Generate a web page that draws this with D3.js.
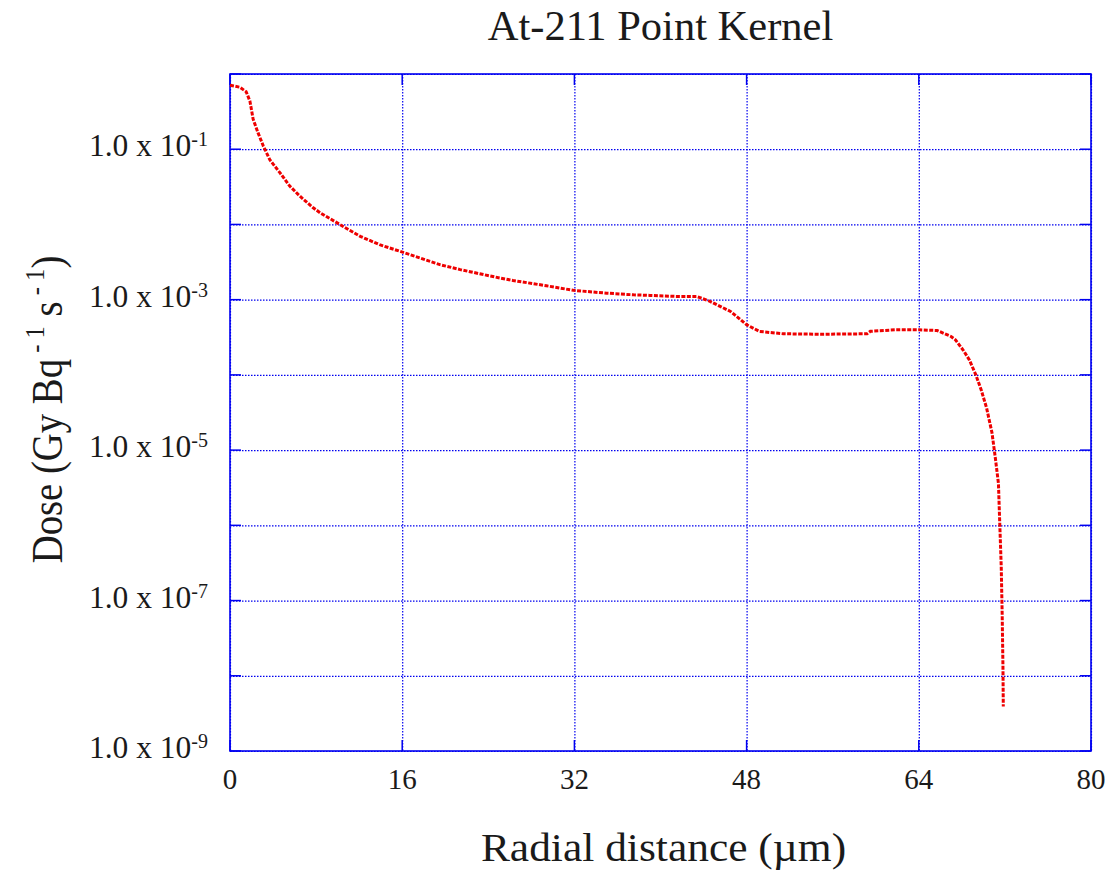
<!DOCTYPE html>
<html>
<head>
<meta charset="utf-8">
<script src="https://cdn.jsdelivr.net/npm/d3@7"></script>
<style>
  html, body { margin: 0; padding: 0; background: #fff; }
  svg text { font-family: "Liberation Serif", "Times New Roman", Times, serif; fill: #1a1a1a; }
</style>
</head>
<body>
<svg id="chart" width="1109" height="871"></svg>
<script>
// Radial distance from the source (µm)
const radius = [
  0, 0.9, 1.5, 1.85, 2.15, 2.6, 3.1, 3.7, 4.65, 5.55, 6.5, 7.7, 8.4,
  10.2, 12.1, 13.9, 15.8, 17.65, 19.5, 21.4, 23.2, 25.1, 26.3, 29.4,
  31.9, 35.0, 37.5, 39.0, 41.8, 43.4, 44.6, 46.5, 48.0, 49.2, 51.4,
  55.0, 59.2, 59.5, 61.9, 64.0, 65.7, 67.0, 67.4, 68.1, 68.7, 69.3,
  69.8, 70.3, 70.8, 71.1, 71.4, 71.5, 71.66, 71.75, 71.82, 71.85
];
// Dose rate per unit activity (Gy Bq^-1 s^-1)
const dose = [
  7.08e-1, 6.68e-1, 5.82e-1, 4.37e-1, 2.51e-1, 1.66e-1, 1.10e-1, 7.24e-2,
  4.84e-2, 3.24e-2, 2.37e-2, 1.68e-2, 1.42e-2,
  1.00e-2, 6.95e-3, 5.38e-3, 4.39e-3, 3.58e-3, 2.92e-3, 2.51e-3, 2.21e-3,
  1.94e-3, 1.80e-3, 1.53e-3,
  1.33e-3, 1.22e-3, 1.16e-3, 1.14e-3, 1.10e-3, 1.10e-3, 9.48e-4, 6.98e-4,
  4.65e-4, 3.78e-4, 3.52e-4,
  3.47e-4, 3.52e-4, 3.80e-4, 3.98e-4, 3.98e-4, 3.89e-4, 3.24e-4, 2.93e-4,
  2.16e-4, 1.58e-4, 1.00e-4,
  6.3e-5, 3.63e-5, 1.70e-5, 8.1e-6, 3.6e-6, 1.32e-6, 2.8e-7, 6.2e-8,
  1.3e-8, 3.9e-9
];

const xTickValues = [0, 16, 32, 48, 64, 80];
const yGridValues = [1e-9, 1e-8, 1e-7, 1e-6, 1e-5, 1e-4, 1e-3, 1e-2, 1e-1, 1];
const yLabelExponents = [-1, -3, -5, -7, -9];

const titleText = "At-211 Point Kernel";
const xLabelText = "Radial distance (\u00b5m)";

const margin = { left: 230, right: 18, top: 74, bottom: 120 };
const W = 1109, H = 871;
const innerW = W - margin.left - margin.right;
const innerH = H - margin.top - margin.bottom;

const svg = d3.select("#chart");
const g = svg.append("g").attr("transform", `translate(${margin.left},${margin.top})`);

const x = d3.scaleLinear().domain([0, 80]).range([0, innerW]);
const y = d3.scaleLog().domain([1e-9, 1]).range([innerH, 0]);

const blue = "#0000f0";

// dotted grid
g.append("g")
  .call(d3.axisBottom(x).tickValues(xTickValues).tickSize(innerH).tickFormat(""))
  .call(s => s.select(".domain").remove())
  .call(s => s.selectAll(".tick line")
    .attr("stroke", blue).attr("stroke-width", 1.2).attr("stroke-dasharray", "1.5,1.5"));

g.append("g")
  .call(d3.axisLeft(y).tickValues(yGridValues).tickSize(-innerW).tickFormat(""))
  .call(s => s.select(".domain").remove())
  .call(s => s.selectAll(".tick line")
    .attr("stroke", blue).attr("stroke-width", 1.2).attr("stroke-dasharray", "1.5,1.5"));

// solid inward ticks on all four sides
const tickLen = 11;
const tk = g.append("g").attr("stroke", blue).attr("stroke-width", 1.5);
tk.selectAll("line.yl").data(yGridValues).join("line")
  .attr("x1", 0).attr("x2", tickLen).attr("y1", d => y(d)).attr("y2", d => y(d));
tk.selectAll("line.yr").data(yGridValues).join("line")
  .attr("x1", innerW - tickLen).attr("x2", innerW).attr("y1", d => y(d)).attr("y2", d => y(d));
tk.selectAll("line.xb").data(xTickValues).join("line")
  .attr("x1", d => x(d)).attr("x2", d => x(d)).attr("y1", innerH).attr("y2", innerH - tickLen);
tk.selectAll("line.xt").data(xTickValues).join("line")
  .attr("x1", d => x(d)).attr("x2", d => x(d)).attr("y1", 0).attr("y2", tickLen);

// frame
g.append("rect")
  .attr("x", 0).attr("y", 0).attr("width", innerW).attr("height", innerH)
  .attr("fill", "none").attr("stroke", blue).attr("stroke-width", 1.6);

// dose curve
const pts = radius.map((r, i) => [r, dose[i]]);
g.append("path")
  .datum(pts)
  .attr("fill", "none")
  .attr("stroke", "#ee0000")
  .attr("stroke-width", 3)
  .attr("stroke-dasharray", "4,1.5")
  .attr("d", d3.line().x(d => x(d[0])).y(d => y(d[1])));

// x tick labels
g.append("g").selectAll("text").data(xTickValues).join("text")
  .attr("x", d => x(d)).attr("y", innerH + 38)
  .attr("text-anchor", "middle")
  .attr("font-size", 29)
  .text(d => d);

// y tick labels: "1.0 x 10" with superscript exponent
const yl = g.append("g").selectAll("text").data(yLabelExponents).join("text")
  .attr("x", -22).attr("y", d => y(Math.pow(10, d)) + 7)
  .attr("text-anchor", "end")
  .attr("font-size", 31.5);
yl.append("tspan").text("1.0 x 10");
yl.append("tspan").attr("dy", -10).attr("font-size", 20).text(d => `${d}`);

// title
svg.append("text")
  .attr("x", margin.left + innerW / 2).attr("y", 40)
  .attr("text-anchor", "middle")
  .attr("font-size", 42.5)
  .text(titleText);

// x axis label
svg.append("text")
  .attr("transform", `translate(${margin.left + innerW / 2 + 3},861) scale(1.06,1)`)
  .attr("text-anchor", "middle")
  .attr("font-size", 41)
  .text(xLabelText);

// y axis label
const ylab = svg.append("text")
  .attr("transform", `translate(62,${margin.top + innerH / 2 - 3}) rotate(-90) scale(0.88,1)`)
  .attr("text-anchor", "middle")
  .attr("font-size", 44);
ylab.append("tspan").text("Dose (Gy Bq");
ylab.append("tspan").attr("dy", -18).attr("font-size", 28).text(" - 1");
ylab.append("tspan").attr("dy", 18).text(" s");
ylab.append("tspan").attr("dy", -18).attr("font-size", 28).text(" - 1");
ylab.append("tspan").attr("dy", 18).text(")");
</script>
</body>
</html>
